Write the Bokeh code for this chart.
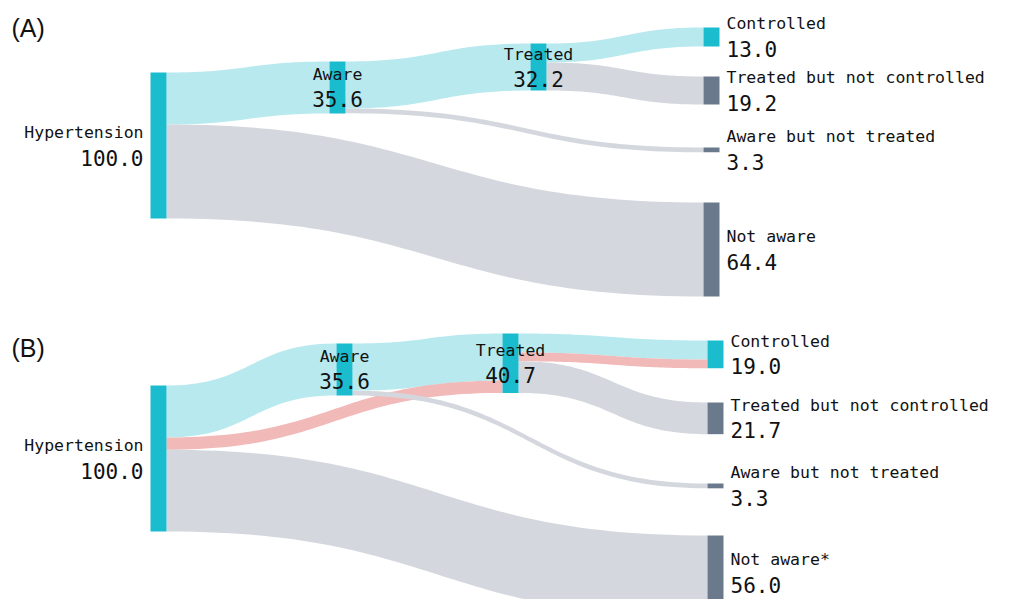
import numpy as np
from bokeh.plotting import figure
from bokeh.models import Range1d
from bokeh.core.properties import value
from bokeh.embed import file_html
from bokeh.resources import INLINE

# ---------------- data ----------------
node_names_a = ["Hypertension", "Aware", "Treated", "Controlled",
                "Treated but not controlled", "Aware but not treated", "Not aware"]
node_values_a = [100.0, 35.6, 32.2, 13.0, 19.2, 3.3, 64.4]
link_src_a = [0, 0, 1, 1, 2, 2]
link_tgt_a = [1, 6, 2, 5, 3, 4]
link_val_a = [35.6, 64.4, 32.2, 3.3, 13.0, 19.2]
link_kind_a = ["aware", "unaware", "aware", "unaware", "aware", "unaware"]

node_names_b = ["Hypertension", "Aware", "Treated", "Controlled",
                "Treated but not controlled", "Aware but not treated", "Not aware*"]
node_values_b = [100.0, 35.6, 40.7, 19.0, 21.7, 3.3, 56.0]
link_src_b = [0, 1, 0, 0, 1, 2, 2, 2]
link_tgt_b = [1, 2, 2, 6, 5, 3, 3, 4]
link_val_b = [35.6, 32.3, 8.4, 56.0, 3.3, 13.0, 6.0, 21.7]
link_kind_b = ["aware", "aware", "new", "unaware", "unaware", "aware", "new", "unaware"]

node_kind = ["main", "main", "main", "main", "dark", "dark", "dark"]
panel_titles = ["(A)", "(B)"]

# ---------------- layout / style ----------------
PX_PER_UNIT = 1.46
NODE_W = 16
layout_a = dict(col_x=[150, 329, 530, 703], node_col=[0, 1, 2, 3, 3, 3, 3],
                node_top=[72, 61, 43, 27, 76, 147, 202], title_xy=(11, 27))
layout_b = dict(col_x=[150, 336, 502, 707], node_col=[0, 1, 2, 3, 3, 3, 3],
                node_top=[385, 343, 333, 340, 402, 483, 535], title_xy=(11, 347))

link_colors = {"aware": "#b8e9ef", "unaware": "#d4d8de", "new": "#f2b9b9"}
node_colors = {"main": "#1bbccd", "dark": "#6a7a8c"}
FONT = "DejaVu Sans Mono"
TEXT_COLOR = "#111111"
NAME_SIZE = "16.5px"
VALUE_SIZE = "21px"

W, H = 994, 599
p = figure(width=W, height=H, x_range=Range1d(0, W), y_range=Range1d(H, 0),
           output_backend="svg", toolbar_location=None, min_border=0)
p.axis.visible = False
p.grid.visible = False
p.outline_line_color = None
p.background_fill_color = "white"


def band(x0, y0a, y0b, x1, y1a, y1b, n=60):
    t = np.linspace(0, 1, n)
    xm = (x0 + x1) / 2.0
    bx = (1 - t) ** 3 * x0 + 3 * (1 - t) ** 2 * t * xm + 3 * (1 - t) * t ** 2 * xm + t ** 3 * x1
    h = 3 * t ** 2 - 2 * t ** 3
    top = y0a + (y1a - y0a) * h
    bot = y0b + (y1b - y0b) * h
    xs = np.concatenate([bx, bx[::-1]])
    ys = np.concatenate([top, bot[::-1]])
    return list(xs), list(ys)


def draw_sankey(names, values, src, tgt, vals, kinds, layout, title):
    n = len(names)
    nx = [layout["col_x"][c] for c in layout["node_col"]]
    ny = layout["node_top"]
    nh = [v * PX_PER_UNIT for v in values]
    out_off = [0.0] * n
    in_off = [0.0] * n
    xs_all, ys_all, cols = [], [], []
    for s, t, v, k in zip(src, tgt, vals, kinds):
        w = v * PX_PER_UNIT
        y0a = ny[s] + out_off[s]
        y1a = ny[t] + in_off[t]
        out_off[s] += w
        in_off[t] += w
        xs, ys = band(nx[s] + NODE_W, y0a, y0a + w, nx[t], y1a, y1a + w)
        xs_all.append(xs)
        ys_all.append(ys)
        cols.append(link_colors[k])
    p.patches(xs_all, ys_all, fill_color=cols, line_color=None)

    p.quad(left=nx, right=[x + NODE_W for x in nx], top=ny,
           bottom=[y + h for y, h in zip(ny, nh)],
           fill_color=[node_colors[k] for k in node_kind], line_color=None)

    ncols = len(layout["col_x"])
    for i in range(n):
        c = layout["node_col"][i]
        cy = min(ny[i] + nh[i] / 2.0, H - 27)
        if c == 0:
            tx, align = nx[i] - 7, "right"
        elif c == ncols - 1:
            tx, align = nx[i] + NODE_W + 7, "left"
        else:
            tx, align = nx[i] + NODE_W / 2.0, "center"
        p.text(x=[tx], y=[cy - 13], text=[names[i]], text_font=value(FONT),
               text_font_size=NAME_SIZE, text_align=align, text_baseline="middle",
               text_color=TEXT_COLOR)
        p.text(x=[tx], y=[cy + 12], text=[f"{values[i]:.1f}"], text_font=value(FONT),
               text_font_size=VALUE_SIZE, text_align=align, text_baseline="middle",
               text_color=TEXT_COLOR)

    p.text(x=[layout["title_xy"][0]], y=[layout["title_xy"][1]], text=[title],
           text_font=value("Liberation Sans"), text_font_size="25px",
           text_align="left", text_baseline="middle", text_color="#111111")


draw_sankey(node_names_a, node_values_a, link_src_a, link_tgt_a, link_val_a,
            link_kind_a, layout_a, panel_titles[0])
draw_sankey(node_names_b, node_values_b, link_src_b, link_tgt_b, link_val_b,
            link_kind_b, layout_b, panel_titles[1])

open("out.html", "w").write(file_html(p, INLINE))
